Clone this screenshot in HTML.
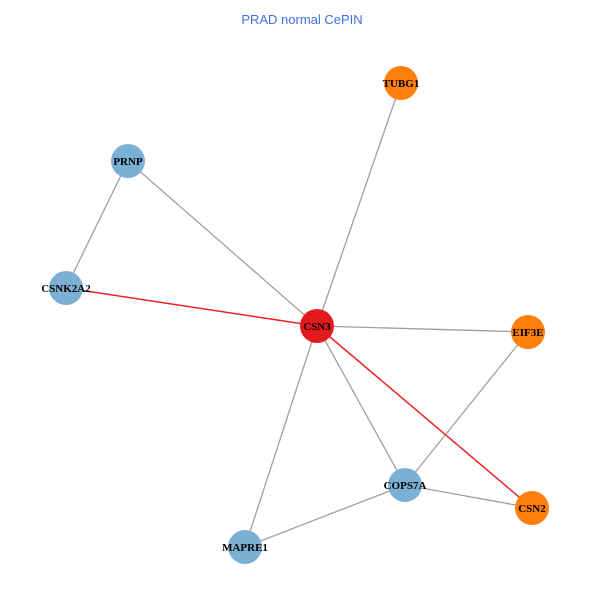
<!DOCTYPE html>
<html><head><meta charset="utf-8"><style>body{margin:0;background:#fff}</style></head>
<body>
<svg width="600" height="600" xmlns="http://www.w3.org/2000/svg">
<rect width="600" height="600" fill="#fff"/>
<text x="302" y="24" text-anchor="middle" font-family="Liberation Sans, sans-serif" font-size="13" fill="#3f6fe6">PRAD normal CePIN</text>
<g stroke="#a0a0a0" stroke-width="1.3">
<line x1="317" y1="326" x2="401" y2="83"/>
<line x1="317" y1="326" x2="128" y2="161"/>
<line x1="128" y1="161" x2="66" y2="288"/>
<line x1="317" y1="326" x2="528" y2="332"/>
<line x1="317" y1="326" x2="405" y2="485"/>
<line x1="317" y1="326" x2="245" y2="547"/>
<line x1="528" y1="332" x2="405" y2="485"/>
<line x1="405" y1="485" x2="532" y2="508"/>
<line x1="405" y1="485" x2="245" y2="547"/>
</g>
<g stroke="#ee2222" stroke-width="1.5">
<line x1="66" y1="288" x2="317" y2="326"/>
<line x1="317" y1="326" x2="532" y2="508"/>
</g>
<g>
<circle cx="401" cy="83" r="17" fill="#ff7f0e"/>
<circle cx="128" cy="161" r="17" fill="#7bafd4"/>
<circle cx="66" cy="288" r="17" fill="#7bafd4"/>
<circle cx="317" cy="326" r="17" fill="#e31a1c"/>
<circle cx="528" cy="332" r="17" fill="#ff7f0e"/>
<circle cx="405" cy="485" r="17" fill="#7bafd4"/>
<circle cx="532" cy="508" r="17" fill="#ff7f0e"/>
<circle cx="245" cy="547" r="17" fill="#7bafd4"/>
</g>
<g font-family="Liberation Serif, serif" font-size="11" font-weight="bold" text-anchor="middle" fill="#000">
<text x="401" y="87">TUBG1</text>
<text x="128" y="165">PRNP</text>
<text x="66" y="292">CSNK2A2</text>
<text x="317" y="330">CSN3</text>
<text x="528" y="336">EIF3E</text>
<text x="405" y="489">COPS7A</text>
<text x="532" y="512">CSN2</text>
<text x="245" y="551">MAPRE1</text>
</g>
</svg>
</body></html>
